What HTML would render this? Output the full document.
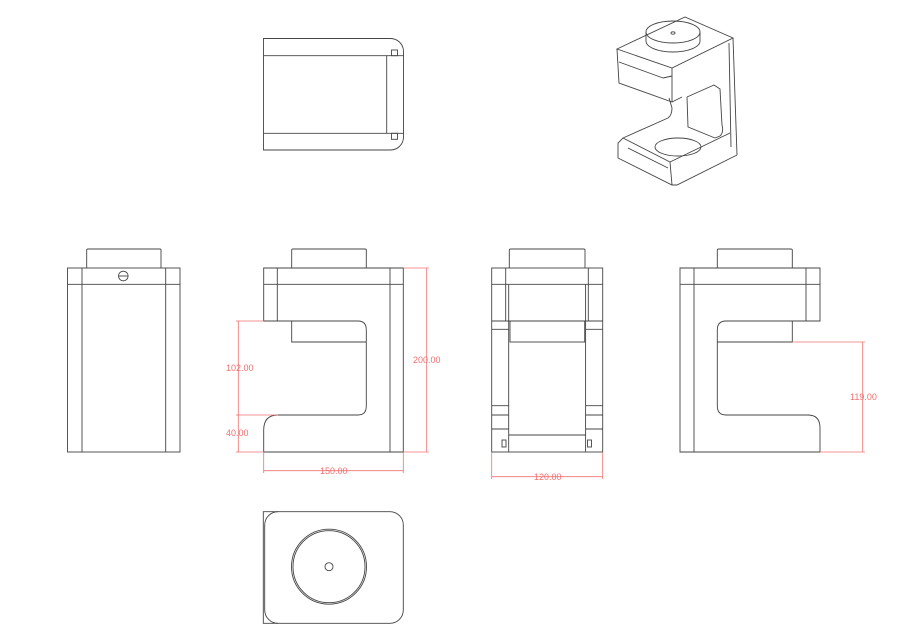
<!DOCTYPE html>
<html><head><meta charset="utf-8"><style>
html,body{margin:0;padding:0;background:#fff;}
svg{display:block;}
.k{fill:none;stroke:#444;stroke-width:0.9;}
.r{fill:none;stroke:#f07070;stroke-width:0.8;}
text{font-family:"Liberation Sans",sans-serif;font-size:9px;fill:#f07070;}
</style></head><body>
<svg width="900" height="630" viewBox="0 0 900 630">
<!-- Top view -->
<g class="k">
<path d="M263.5 38.5 H390 A13 13 0 0 1 403.5 51.5 V137 A13 13 0 0 1 390 150 H263.5 Z"/>
<line x1="263.5" y1="55.7" x2="403.5" y2="55.7"/>
<line x1="263.5" y1="133.3" x2="403.5" y2="133.3"/>
<line x1="386.7" y1="55.7" x2="386.7" y2="133.3"/>
<rect x="391.5" y="50" width="6" height="5.7"/>
<rect x="391.5" y="133.3" width="6" height="6"/>
</g>
<!-- Isometric -->
<g class="k">
<polygon points="617,49 672,68 733,38 685,17"/>
<path d="M617 49 L619 83 L672 102 L672 68"/>
<line x1="619" y1="62" x2="663" y2="78"/>
<line x1="663" y1="78" x2="672" y2="76"/>
<line x1="672" y1="102" x2="682" y2="97"/>
<line x1="733" y1="38" x2="737" y2="155"/>
<line x1="729" y1="43" x2="731" y2="147"/>
<path d="M737 155 L677 185 L672 185 L618 158 L618 143 L623 138 L670 162"/>
<line x1="670" y1="162" x2="672" y2="185"/>
<line x1="623" y1="138" x2="668" y2="118"/>
<path d="M668 118 Q672 115 672 108 L669 98"/>
<path d="M687 97 L688 127 L715 138"/>
<path d="M715 138 L720 136 Q724 132 722 125 L720 89 L714 85 L687 97"/>
<line x1="670" y1="162" x2="730" y2="133"/>
<line x1="628" y1="148" x2="668" y2="168"/>
<ellipse cx="678" cy="147" rx="23" ry="9"/>
<ellipse cx="673" cy="32" rx="27" ry="11"/>
<path d="M646 32 V41 A27 11 0 0 0 700 41 V32"/>
<ellipse cx="673" cy="33" rx="2" ry="1.2"/>
</g>
<!-- Left view -->
<g class="k">
<rect x="67.5" y="268" width="112.5" height="184"/>
<line x1="82" y1="268" x2="82" y2="452"/>
<line x1="165.7" y1="268" x2="165.7" y2="452"/>
<line x1="67.5" y1="284.3" x2="180" y2="284.3"/>
<path d="M86.7 268 V250 Q86.7 249 88 249 H160 Q161 249 161 250 V268"/>
<circle cx="123.3" cy="276" r="4.8"/>
<line x1="118.5" y1="276" x2="128.1" y2="276"/>
</g>
<!-- Front view -->
<g class="k">
<path d="M291.7 268 V250 Q291.7 249 293 249 H365 Q366.3 249 366.3 250 V268"/>
<path d="M263.7 268 H403.3 V452 H263.7 V430 Q263.7 415 278 415 H358 Q366.3 415 366.3 406 V330 Q366.3 321 358 321 H263.7 Z"/>
<line x1="277.3" y1="268" x2="277.3" y2="321"/>
<line x1="390" y1="268" x2="390" y2="452"/>
<line x1="263.7" y1="284.3" x2="403.3" y2="284.3"/>
<path d="M291.7 321 V342 H366.3"/>
</g>
<g class="r">
<line x1="403.3" y1="268" x2="429" y2="268"/>
<line x1="403.3" y1="452" x2="429" y2="452"/>
<line x1="426.7" y1="268" x2="426.7" y2="452"/>
<line x1="236" y1="321" x2="263.7" y2="321"/>
<line x1="236" y1="415" x2="278" y2="415"/>
<line x1="236" y1="452" x2="263.7" y2="452"/>
<line x1="238.3" y1="321" x2="238.3" y2="452"/>
<line x1="263.7" y1="452" x2="263.7" y2="473"/>
<line x1="403.3" y1="452" x2="403.3" y2="473"/>
<line x1="263.7" y1="470.7" x2="403.3" y2="470.7"/>
</g>
<text x="413" y="363">200.00</text>
<text x="226" y="371">102.00</text>
<text x="226" y="436">40.00</text>
<text x="320" y="474">150.00</text>
<!-- Right side (middle) view -->
<g class="k">
<path d="M509.3 268 V250 Q509.3 249 511 249 H583.5 Q585 249 585 250 V268"/>
<rect x="491.7" y="268" width="111" height="184"/>
<line x1="491.7" y1="284.3" x2="602.7" y2="284.3"/>
<line x1="505.7" y1="268" x2="505.7" y2="321"/>
<line x1="588.3" y1="268" x2="588.3" y2="321"/>
<line x1="508.7" y1="284.3" x2="508.7" y2="452"/>
<line x1="585.6" y1="284.3" x2="585.6" y2="452"/>
<line x1="491.7" y1="321" x2="602.7" y2="321"/>
<rect x="510" y="321" width="74.7" height="21"/>
<line x1="491.7" y1="329.3" x2="508.7" y2="329.3"/>
<line x1="585.6" y1="329.3" x2="602.7" y2="329.3"/>
<line x1="491.7" y1="405.7" x2="508.7" y2="405.7"/>
<line x1="585.6" y1="405.7" x2="602.7" y2="405.7"/>
<line x1="491.7" y1="415" x2="508.7" y2="415"/>
<line x1="585.6" y1="415" x2="602.7" y2="415"/>
<line x1="491.7" y1="429" x2="508.7" y2="429"/>
<line x1="585.6" y1="429" x2="602.7" y2="429"/>
<line x1="508.7" y1="435" x2="585.6" y2="435"/>
<rect x="502" y="440" width="4" height="7"/>
<rect x="587.5" y="440" width="4" height="7"/>
</g>
<g class="r">
<line x1="491.7" y1="452" x2="491.7" y2="479"/>
<line x1="602.7" y1="452" x2="602.7" y2="479"/>
<line x1="491.7" y1="476.7" x2="602.7" y2="476.7"/>
</g>
<text x="534" y="480">120.00</text>
<!-- Right view -->
<g class="k">
<path d="M717.3 268 V250 Q717.3 249 719 249 H790.5 Q792.3 249 792.3 250 V268"/>
<path d="M680 268 H820 V321 H726 Q717.3 321 717.3 330 V406 Q717.3 415 726 415 H808 Q820 415 820 428 V452 H680 Z"/>
<line x1="694" y1="268" x2="694" y2="452"/>
<line x1="806" y1="268" x2="806" y2="321"/>
<line x1="680" y1="284.3" x2="820" y2="284.3"/>
<path d="M792.3 321 V342 H717.3"/>
</g>
<g class="r">
<line x1="792.3" y1="342" x2="865" y2="342"/>
<line x1="820" y1="452" x2="865" y2="452"/>
<line x1="862.7" y1="342" x2="862.7" y2="452"/>
</g>
<text x="850" y="400">119.00</text>
<!-- Bottom view -->
<g class="k">
<path d="M278 511.7 H390 A13.3 13.3 0 0 1 403.3 525 V610 A13.3 13.3 0 0 1 390 623.3 H278 A13.3 13.3 0 0 1 264.7 610 V525 A13.3 13.3 0 0 1 278 511.7 Z"/>
<path d="M278 511.7 H263.3 V623.3 H278"/>
<circle cx="329" cy="566.7" r="37.5"/>
<circle cx="329" cy="566.7" r="36"/>
<circle cx="329" cy="566.7" r="4"/>
</g>
</svg>
</body></html>
